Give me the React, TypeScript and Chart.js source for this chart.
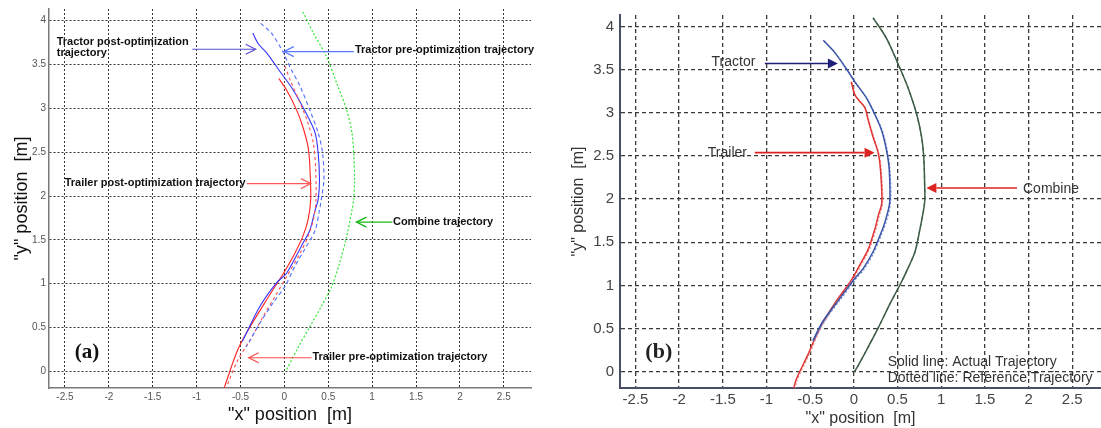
import React, { useEffect, useRef } from 'react';
import { Chart, registerables } from 'chart.js';

Chart.register(...registerables);

// ---------- ticks ----------
const X_TICKS = [-2.5, -2, -1.5, -1, -0.5, 0, 0.5, 1, 1.5, 2, 2.5];
const Y_TICKS = [0, 0.5, 1, 1.5, 2, 2.5, 3, 3.5, 4];

// ---------- panel (a) series: [x, y] in metres ----------
const tractorPostA: [number, number][] = [
  [-0.36, 3.86], [-0.3, 3.74], [-0.2, 3.63], [-0.05, 3.42], [0.1, 3.21], [0.25, 2.94],
  [0.35, 2.72], [0.385, 2.49], [0.4, 2.18], [0.385, 1.96], [0.35, 1.84], [0.29, 1.61],
  [0.21, 1.46], [0.025, 1.12], [-0.09, 1.01], [-0.28, 0.74], [-0.47, 0.36], [-0.48, 0.34],
];
const tractorPreA: [number, number][] = [
  [-0.27, 3.97], [-0.15, 3.86], [-0.03, 3.67], [0.08, 3.44], [0.18, 3.25], [0.29, 2.98],
  [0.385, 2.72], [0.435, 2.49], [0.45, 2.18], [0.42, 1.96], [0.4, 1.84], [0.35, 1.61],
  [0.23, 1.39], [0.12, 1.2], [0.006, 0.97], [-0.13, 0.78], [-0.28, 0.55], [-0.41, 0.32],
  [-0.44, 0.28],
];
const trailerPostA: [number, number][] = [
  [-0.063, 3.34], [0.025, 3.21], [0.14, 2.98], [0.21, 2.79], [0.27, 2.56], [0.29, 2.34],
  [0.3, 1.96], [0.27, 1.73], [0.21, 1.54], [0.1, 1.31], [-0.01, 1.12], [-0.2, 0.82],
  [-0.39, 0.51], [-0.53, 0.25], [-0.68, -0.17], [-0.69, -0.2],
];
const trailerPreA: [number, number][] = [
  [0.006, 3.48], [0.08, 3.29], [0.18, 3.06], [0.27, 2.83], [0.33, 2.6], [0.355, 2.34],
  [0.36, 1.96], [0.33, 1.73], [0.27, 1.54], [0.18, 1.35], [0.025, 1.08], [-0.11, 0.85],
  [-0.24, 0.63], [-0.39, 0.36], [-0.53, 0.13], [-0.64, -0.13], [-0.66, -0.2],
];
const combineA: [number, number][] = [
  [0.21, 4.1], [0.33, 3.86], [0.48, 3.59], [0.595, 3.29], [0.71, 2.98], [0.77, 2.72],
  [0.79, 2.49], [0.8, 2.18], [0.79, 1.96], [0.77, 1.84], [0.71, 1.54], [0.63, 1.24],
  [0.54, 0.97], [0.42, 0.74], [0.29, 0.51], [0.16, 0.28], [0.025, 0.02], [0.01, 0.0],
];

// ---------- panel (b) series ----------
const tractorB: [number, number][] = [
  [-0.35, 3.84], [-0.22, 3.7], [-0.1, 3.53], [0.01, 3.36], [0.145, 3.17], [0.24, 2.98],
  [0.32, 2.79], [0.375, 2.56], [0.405, 2.34], [0.41, 1.96], [0.355, 1.73], [0.3, 1.58],
  [0.22, 1.39], [0.11, 1.2], [0.01, 1.08], [-0.16, 0.85], [-0.35, 0.59], [-0.47, 0.36],
];
const tractorRefB: [number, number][] = [
  [-0.34, 3.83], [-0.21, 3.69], [-0.09, 3.52], [0.02, 3.35], [0.155, 3.16], [0.25, 2.97],
  [0.33, 2.78], [0.385, 2.55], [0.415, 2.33], [0.42, 1.95], [0.365, 1.72], [0.31, 1.57],
  [0.23, 1.38], [0.12, 1.19], [0.02, 1.07], [-0.15, 0.84], [-0.34, 0.58], [-0.46, 0.35],
];
const trailerB: [number, number][] = [
  [-0.03, 3.36], [0.01, 3.21], [0.07, 3.13], [0.126, 3.06], [0.165, 2.91], [0.22, 2.72],
  [0.28, 2.53], [0.305, 2.34], [0.32, 1.96], [0.28, 1.81], [0.24, 1.65], [0.165, 1.42],
  [0.07, 1.24], [-0.03, 1.06], [-0.2, 0.82], [-0.39, 0.51], [-0.52, 0.21], [-0.66, -0.09],
  [-0.69, -0.2],
];
const trailerRefB: [number, number][] = [
  [-0.02, 3.35], [0.02, 3.2], [0.08, 3.12], [0.136, 3.05], [0.175, 2.9], [0.23, 2.71],
  [0.29, 2.52], [0.315, 2.33], [0.33, 1.95], [0.29, 1.8], [0.25, 1.64], [0.175, 1.41],
  [0.08, 1.23], [-0.02, 1.05], [-0.19, 0.81], [-0.38, 0.5], [-0.51, 0.2], [-0.65, -0.1],
  [-0.67, -0.2],
];
const combineB: [number, number][] = [
  [0.22, 4.1], [0.375, 3.86], [0.53, 3.51], [0.62, 3.29], [0.72, 2.98], [0.775, 2.72],
  [0.8, 2.49], [0.81, 2.18], [0.81, 1.96], [0.756, 1.65], [0.7, 1.39], [0.62, 1.2],
  [0.53, 1.01], [0.41, 0.78], [0.28, 0.51], [0.145, 0.25], [0.02, 0.02], [0.0, 0.0],
];

// ---------- annotation labels ----------
const SANS = "'Liberation Sans', Arial, sans-serif";
const SERIF = "'Liberation Serif', 'Times New Roman', serif";

type Note = { text: string; x: number; y: number; font: string; color: string };
type Arrow = { x1: number; x2: number; y: number; color: string; head: 'open' | 'filled'; width: number };

const notesA: Note[] = [
  { text: 'Tractor post-optimization', x: -2.594, y: 3.76, font: `bold 11px ${SANS}`, color: '#111' },
  { text: 'trajectory', x: -2.594, y: 3.63, font: `bold 11px ${SANS}`, color: '#111' },
  { text: 'Tractor pre-optimization trajectory', x: 0.804, y: 3.666, font: `bold 11px ${SANS}`, color: '#111' },
  { text: 'Trailer post-optimization trajectory', x: -2.503, y: 2.15, font: `bold 11px ${SANS}`, color: '#111' },
  { text: 'Combine trajectory', x: 1.237, y: 1.706, font: `bold 11px ${SANS}`, color: '#111' },
  { text: 'Trailer pre-optimization trajectory', x: 0.32, y: 0.164, font: `bold 11px ${SANS}`, color: '#111' },
  { text: '(a)', x: -2.389, y: 0.213, font: `bold 21px ${SERIF}`, color: '#111' },
];
const arrowsA: Arrow[] = [
  { x1: -1.049, x2: -0.327, y: 3.674, color: '#5a4fd0', head: 'open', width: 1.2 },
  { x1: 0.79, x2: -0.006, y: 3.647, color: '#5a78ff', head: 'open', width: 1.2 },
  { x1: -0.428, x2: 0.302, y: 2.142, color: '#ff5a5a', head: 'open', width: 1.2 },
  { x1: 1.23, x2: 0.822, y: 1.703, color: '#16b816', head: 'open', width: 1.4 },
  { x1: 0.31, x2: -0.407, y: 0.156, color: '#ff4a4a', head: 'open', width: 1.2 },
];
const notesB: Note[] = [
  { text: 'Tractor', x: -1.629, y: 3.583, font: `14px ${SANS}`, color: '#333' },
  { text: 'Trailer', x: -1.672, y: 2.538, font: `14px ${SANS}`, color: '#333' },
  { text: 'Combine', x: 1.936, y: 2.12, font: `14px ${SANS}`, color: '#333' },
  { text: 'Solid line: Actual Trajectory', x: 0.387, y: 0.114, font: `14px ${SANS}`, color: '#333' },
  { text: 'Dotted line: Reference Trajectory', x: 0.387, y: -0.075, font: `14px ${SANS}`, color: '#333' },
  { text: '(b)', x: -2.387, y: 0.224, font: `bold 22px ${SERIF}`, color: '#222' },
];
const arrowsB: Arrow[] = [
  { x1: -1.019, x2: -0.183, y: 3.571, color: '#1f1f78', head: 'filled', width: 1.6 },
  { x1: -1.134, x2: 0.237, y: 2.538, color: '#dd2222', head: 'filled', width: 1.6 },
  { x1: 1.867, x2: 0.83, y: 2.128, color: '#dd2222', head: 'filled', width: 1.6 },
];

function notesPlugin(notes: Note[], arrows: Arrow[]) {
  return {
    id: 'notes',
    afterDatasetsDraw(chart: any) {
      const { ctx } = chart;
      const xs = chart.scales.x;
      const ys = chart.scales.y;
      ctx.save();
      for (const a of arrows) {
        const p1 = xs.getPixelForValue(a.x1);
        const p2 = xs.getPixelForValue(a.x2);
        const py = ys.getPixelForValue(a.y);
        const dir = Math.sign(p2 - p1);
        const L = 10;
        const H = 5;
        ctx.strokeStyle = a.color;
        ctx.fillStyle = a.color;
        ctx.lineWidth = a.width;
        ctx.setLineDash([]);
        ctx.beginPath();
        ctx.moveTo(p1, py);
        ctx.lineTo(a.head === 'filled' ? p2 - dir * L : p2, py);
        ctx.stroke();
        ctx.beginPath();
        if (a.head === 'open') {
          ctx.moveTo(p2 - dir * L, py - H);
          ctx.lineTo(p2, py);
          ctx.lineTo(p2 - dir * L, py + H);
          ctx.stroke();
        } else {
          ctx.moveTo(p2, py);
          ctx.lineTo(p2 - dir * L, py - H);
          ctx.lineTo(p2 - dir * L, py + H);
          ctx.closePath();
          ctx.fill();
        }
      }
      ctx.textAlign = 'left';
      ctx.textBaseline = 'middle';
      for (const n of notes) {
        ctx.font = n.font;
        ctx.fillStyle = n.color;
        ctx.fillText(n.text, xs.getPixelForValue(n.x), ys.getPixelForValue(n.y));
      }
      ctx.restore();
    },
  };
}

function series(data: [number, number][], color: string, width: number, dash: number[]) {
  return {
    data: data.map(([x, y]) => ({ x, y })),
    borderColor: color,
    backgroundColor: color,
    borderWidth: width,
    borderDash: dash,
    showLine: true,
    pointRadius: 0,
    pointHoverRadius: 0,
    tension: 0.3,
    fill: false,
  };
}

type AxisStyle = {
  xMin: number; xMax: number; yMin: number; yMax: number;
  yAxisWidth: number; padRight: number;
  tickFont: number; tickColor: string; yTickPad: number; xTickPad: number;
  gridColor: string; gridWidth: number; gridDash: number[];
  borderColor: string; borderWidth: number;
  titleFont: number; titleColor: string; yTitlePad: number; xTitlePad: number;
};

function buildOptions(s: AxisStyle) {
  return {
    responsive: false,
    animation: false,
    devicePixelRatio: 1,
    events: [],
    layout: { padding: { top: 9, right: s.padRight, left: 0, bottom: 0 } },
    plugins: { legend: { display: false }, tooltip: { enabled: false } },
    scales: {
      x: {
        type: 'linear',
        min: s.xMin,
        max: s.xMax,
        afterBuildTicks: (sc: any) => { sc.ticks = X_TICKS.map((v) => ({ value: v })); },
        afterFit: (sc: any) => { sc.height = 40; },
        ticks: {
          autoSkip: false, maxRotation: 0, padding: s.xTickPad,
          color: s.tickColor, font: { family: SANS, size: s.tickFont },
          callback: (v: number) => String(v),
        },
        grid: { color: s.gridColor, lineWidth: s.gridWidth, drawTicks: false },
        border: { color: s.borderColor, width: s.borderWidth, dash: s.gridDash },
        title: {
          display: true, text: '"x" position  [m]', color: s.titleColor,
          font: { family: SANS, size: s.titleFont, lineHeight: 1 },
          padding: { top: 0, bottom: s.xTitlePad },
        },
      },
      y: {
        type: 'linear',
        min: s.yMin,
        max: s.yMax,
        afterBuildTicks: (sc: any) => { sc.ticks = Y_TICKS.map((v) => ({ value: v })); },
        afterFit: (sc: any) => { sc.width = s.yAxisWidth; },
        ticks: {
          autoSkip: false, padding: s.yTickPad,
          color: s.tickColor, font: { family: SANS, size: s.tickFont },
          callback: (v: number) => String(v),
        },
        grid: { color: s.gridColor, lineWidth: s.gridWidth, drawTicks: false },
        border: { color: s.borderColor, width: s.borderWidth, dash: s.gridDash },
        title: {
          display: true, text: '"y" position  [m]', color: s.titleColor,
          font: { family: SANS, size: s.titleFont, lineHeight: 1 },
          padding: { top: s.yTitlePad, bottom: 0 },
        },
      },
    },
  };
}

export default function App() {
  const refA = useRef<HTMLCanvasElement>(null);
  const refB = useRef<HTMLCanvasElement>(null);

  useEffect(() => {
    const chartA = new Chart(refA.current as HTMLCanvasElement, {
      type: 'scatter',
      data: {
        datasets: [
          series(combineA, '#2ee82e', 1.2, [2, 2]),
          series(tractorPreA, '#4d6bff', 1.1, [4, 3]),
          series(trailerPreA, '#ff4d4d', 1.1, [3, 3]),
          series(tractorPostA, '#3535ff', 1.1, []),
          series(trailerPostA, '#ff2020', 1.1, []),
        ] as any,
      },
      options: buildOptions({
        xMin: -2.682, xMax: 2.81, yMin: -0.189, yMax: 4.133,
        yAxisWidth: 49, padRight: 24,
        tickFont: 10, tickColor: '#555', yTickPad: 3, xTickPad: 3,
        gridColor: '#333', gridWidth: 1, gridDash: [2, 2],
        borderColor: '#7a7a7a', borderWidth: 1.5,
        titleFont: 18, titleColor: '#111', yTitlePad: 13, xTitlePad: 4,
      }) as any,
      plugins: [notesPlugin(notesA, arrowsA)],
    });

    const chartB = new Chart(refB.current as HTMLCanvasElement, {
      type: 'scatter',
      data: {
        datasets: [
          series(combineB, '#3f5a48', 1.5, []),
          series(combineB, '#3a9a3a', 1.3, [3, 4]),
          series(tractorB, '#3a55a8', 1.5, []),
          series(tractorRefB, '#7088cc', 1.1, [2, 2]),
          series(trailerB, '#e03535', 1.5, []),
          series(trailerRefB, '#f08a8a', 1.1, [2, 2]),
        ] as any,
      },
      options: buildOptions({
        xMin: -2.677, xMax: 2.829, yMin: -0.189, yMax: 4.133,
        yAxisWidth: 65, padRight: 0,
        tickFont: 15, tickColor: '#444', yTickPad: 6, xTickPad: 3,
        gridColor: '#3a3a3a', gridWidth: 1.3, gridDash: [4, 3],
        borderColor: '#4a4f66', borderWidth: 2,
        titleFont: 16, titleColor: '#333', yTitlePad: 16, xTitlePad: 1,
      }) as any,
      plugins: [notesPlugin(notesB, arrowsB)],
    });

    return () => {
      chartA.destroy();
      chartB.destroy();
    };
  }, []);

  return (
    <div style={{ position: 'fixed', left: 0, top: 0, width: 1101, height: 428, background: '#fff' }}>
      <canvas ref={refA} width={555} height={428} style={{ position: 'absolute', left: 0, top: 0 }} />
      <canvas ref={refB} width={546} height={428} style={{ position: 'absolute', left: 555, top: 0 }} />
    </div>
  );
}
